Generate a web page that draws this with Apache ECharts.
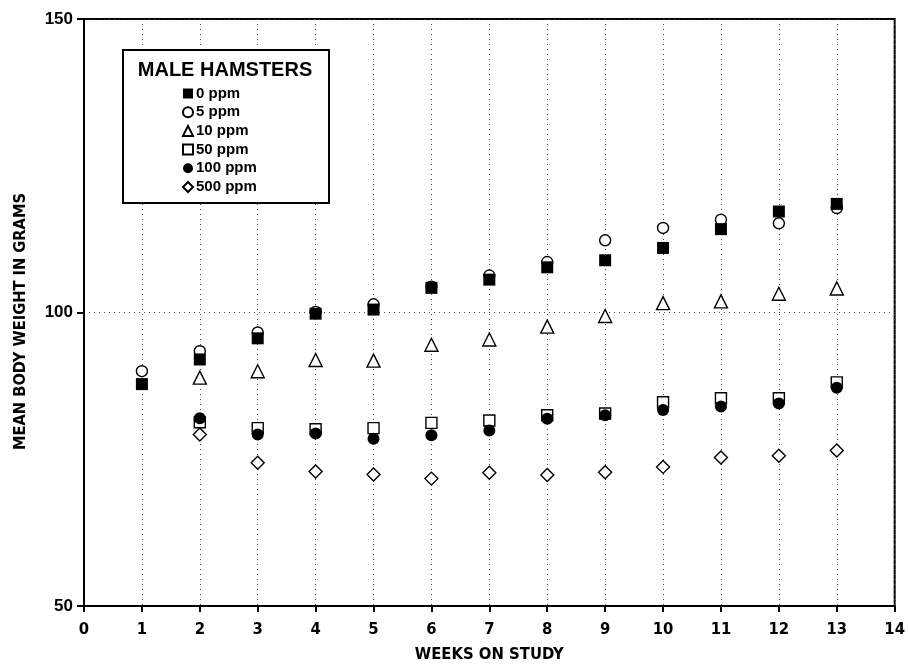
<!DOCTYPE html>
<html>
<head>
<meta charset="utf-8">
<script src="https://cdn.jsdelivr.net/npm/echarts@6/dist/echarts.min.js"></script>
<style>
html,body{margin:0;padding:0;background:#fff;}
#chart{width:908px;height:668px;}
</style>
</head>
<body>
<div id="chart"></div>
<script>
var weeks = [1,2,3,4,5,6,7,8,9,10,11,12,13];
var seriesNames = ['0 ppm','5 ppm','10 ppm','50 ppm','100 ppm','500 ppm'];
var ppm0   = [87.8, 92.0, 95.6, 99.8, 100.5, 104.2, 105.6, 107.7, 108.9, 111.0, 114.2, 117.2, 118.5];
var ppm5   = [90.0, 93.4, 96.6, 100.1, 101.4, 104.4, 106.3, 108.6, 112.3, 114.4, 115.8, 115.2, 117.8];
var ppm10  = [null, 88.9, 90.0, 91.9, 91.8, 94.5, 95.4, 97.6, 99.4, 101.6, 101.9, 103.2, 104.1];
var ppm50  = [null, 81.3, 80.3, 80.1, 80.3, 81.2, 81.6, 82.5, 82.8, 84.7, 85.4, 85.4, 88.1];
var ppm100 = [null, 82.0, 79.2, 79.4, 78.5, 79.1, 79.9, 81.9, 82.5, 83.4, 84.0, 84.5, 87.2];
var ppm500 = [null, 79.2, 74.4, 72.9, 72.4, 71.7, 72.7, 72.3, 72.8, 73.7, 75.3, 75.6, 76.5];
var xTicks = [0,1,2,3,4,5,6,7,8,9,10,11,12,13,14];
var yTicks = [50,100,150];
var legendTitle = 'MALE HAMSTERS';
var xTitle = 'WEEKS ON STUDY';
var yTitle = 'MEAN BODY WEIGHT IN GRAMS';

function pairs(arr){
  var out = [];
  for (var i=0;i<weeks.length;i++){ if(arr[i]!==null) out.push([weeks[i], arr[i]]); }
  return out;
}
var openStyle = {color:'#ffffff', borderColor:'#000000', borderWidth:1.4, opacity:1};
var fillStyle = {color:'#000000', borderColor:'#000000', borderWidth:0, opacity:1};
var defs = [
  {data:ppm0, symbol:'rect', size:12, style:fillStyle, z:4},
  {data:ppm5, symbol:'circle', size:11, style:openStyle, z:3},
  {data:ppm10, symbol:'triangle', size:13, style:openStyle, z:3},
  {data:ppm50, symbol:'rect', size:11, style:openStyle, z:3},
  {data:ppm100, symbol:'circle', size:12, style:fillStyle, z:4},
  {data:ppm500, symbol:'diamond', size:13, style:openStyle, z:3}
];
var series = defs.map(function(d,i){
  return {
    name: seriesNames[i], type:'scatter', data: pairs(d.data),
    symbol: d.symbol, symbolSize: d.size, itemStyle: d.style, z: d.z,
    emphasis:{disabled:true}, animation:false
  };
});

var chart = echarts.init(document.getElementById('chart'), null, {renderer:'canvas'});
var condFont = "'DejaVu Sans Condensed', 'Liberation Sans Narrow', sans-serif";
var sansFont = "'Liberation Sans', Arial, sans-serif";
chart.setOption({
  backgroundColor:'#ffffff',
  animation:false,
  grid:{left:84, right:8, top:19, bottom:59, show:true, borderColor:'#000', borderWidth:2, backgroundColor:'transparent'},
  xAxis:{
    type:'value', min:xTicks[0], max:xTicks[xTicks.length-1], interval:1,
    name:xTitle, nameLocation:'middle', nameGap:40,
    nameTextStyle:{fontFamily:condFont, fontWeight:'bold', fontSize:16.5, color:'#000'},
    axisLine:{lineStyle:{color:'#000', width:2}},
    axisTick:{show:true, length:6, lineStyle:{color:'#000', width:2}},
    axisLabel:{fontFamily:condFont, fontWeight:'bold', fontSize:16.5, color:'#000', margin:15},
    splitLine:{show:true, lineStyle:{type:[1,4], color:'#444', width:1}}
  },
  yAxis:{
    type:'value', min:yTicks[0], max:yTicks[yTicks.length-1], interval:50,
    name:yTitle, nameLocation:'middle', nameGap:55,
    nameTextStyle:{fontFamily:condFont, fontWeight:'bold', fontSize:16.3, color:'#000', padding:[0,18,0,0]},
    axisLine:{lineStyle:{color:'#000', width:2}},
    axisTick:{show:true, length:7, lineStyle:{color:'#000', width:2}},
    axisLabel:{fontFamily:sansFont, fontWeight:'bold', fontSize:17, color:'#000', margin:11},
    splitLine:{show:true, lineStyle:{type:[1,4], color:'#444', width:1}}
  },
  graphic:[
    {type:'rect', z:10, shape:{x:123, y:50, width:206, height:153}, style:{fill:'#fff', stroke:'#000', lineWidth:2}},
    {type:'text', z:11, x:225, y:70, style:{text:legendTitle, fill:'#000', fontFamily:sansFont, fontWeight:'bold', fontSize:20, textAlign:'center', textVerticalAlign:'middle'}}
  ],
  legend:{
    orient:'vertical', left:182, top:86, z:12, padding:0,
    itemWidth:10, itemHeight:10, itemGap:3.7,
    textStyle:{fontFamily:sansFont, fontWeight:'bold', fontSize:15, lineHeight:15, color:'#000', padding:[0,0,0,-2]},
    data: seriesNames,
    selectedMode:false
  },
  series: series
});
</script>
</body>
</html>
